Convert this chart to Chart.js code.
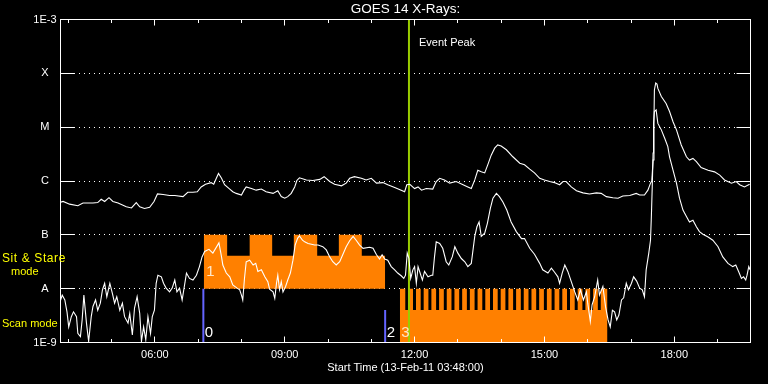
<!DOCTYPE html>
<html>
<head>
<meta charset="utf-8">
<script src="https://cdn.jsdelivr.net/npm/chart.js@4/dist/chart.umd.min.js"></script>
<style>
html,body{margin:0;padding:0;background:#000;}
canvas{display:block;}
</style>
</head>
<body>
<canvas id="c" width="768" height="384"></canvas>
<script>
// ---- Axis ticks ----
const yTickValues = [1e-9, 1e-8, 1e-7, 1e-6, 1e-5, 1e-4, 1e-3];
const yTickLabels = ['1E-9', 'A', 'B', 'C', 'M', 'X', '1E-3'];
const xTickValues = [6, 9, 12, 15, 18];                  // hours, 13-Feb-11
const xTickLabels = ['06:00', '09:00', '12:00', '15:00', '18:00'];
const hourTicks = [4, 5, 6, 7, 8, 9, 10, 11, 12, 13, 14, 15, 16, 17, 18, 19];

// ---- GOES 14 long channel (1-8 A): time (h) / log10 flux (W/m^2) ----
const longTimes = [3.80,3.88,4.03,4.22,4.34,4.57,4.68,4.76,4.84,4.94,5.03,5.15,5.34,5.46,5.57,5.65,5.76,5.88,5.98,6.06,
6.19,6.34,6.46,6.65,6.76,6.88,6.98,7.07,7.17,7.30,7.36,7.42,7.47,7.54,7.61,7.73,7.80,7.88,8.00,8.06,
8.11,8.23,8.34,8.46,8.57,8.73,8.84,8.92,9.00,9.07,9.15,9.23,9.28,9.34,9.50,9.65,9.81,9.91,10.04,10.15,
10.31,10.42,10.50,10.61,10.77,10.88,11.00,11.12,11.27,11.38,11.54,11.69,11.77,11.82,11.89,12.00,12.08,12.16,12.27,12.42,
12.50,12.58,12.69,12.81,12.96,13.12,13.23,13.31,13.39,13.46,13.54,13.62,13.69,13.77,13.85,13.92,14.00,14.12,14.27,14.43,
14.54,14.66,14.77,14.89,15.00,15.12,15.23,15.35,15.43,15.50,15.62,15.74,15.89,16.04,16.20,16.31,16.43,16.58,16.70,16.81,
16.97,17.12,17.20,17.31,17.39,17.45,17.48,17.51,17.53,17.54,17.57,17.60,17.62,17.70,17.81,17.89,17.97,18.05,18.16,18.28,
18.35,18.43,18.51,18.62,18.78,18.93,19.05,19.16,19.32,19.43,19.51,19.62,19.74];
const longLogFlux = [-6.40,-6.38,-6.43,-6.46,-6.41,-6.41,-6.40,-6.34,-6.38,-6.31,-6.38,-6.41,-6.48,-6.50,-6.40,-6.48,-6.51,-6.49,-6.38,-6.24,
-6.25,-6.27,-6.27,-6.29,-6.21,-6.21,-6.20,-6.11,-6.06,-6.03,-6.06,-5.95,-5.86,-5.95,-6.07,-6.15,-6.20,-6.23,-6.26,-6.17,
-6.11,-6.14,-6.17,-6.15,-6.20,-6.23,-6.18,-6.29,-6.32,-6.29,-6.23,-6.11,-5.99,-5.94,-5.98,-5.99,-5.97,-5.92,-6.01,-6.06,
-6.09,-6.04,-5.95,-5.92,-5.95,-5.98,-5.95,-6.04,-6.03,-6.07,-6.12,-6.17,-6.20,-6.07,-6.06,-6.14,-6.11,-6.17,-6.14,-6.15,
-6.01,-5.95,-5.98,-6.04,-6.01,-6.07,-6.11,-6.14,-5.98,-5.80,-5.83,-5.85,-5.70,-5.52,-5.39,-5.33,-5.35,-5.42,-5.55,-5.67,
-5.70,-5.78,-5.85,-5.95,-5.98,-6.01,-6.03,-6.07,-6.01,-6.01,-6.11,-6.18,-6.22,-6.24,-6.22,-6.23,-6.29,-6.31,-6.32,-6.28,
-6.27,-6.23,-6.26,-6.26,-6.17,-6.04,-6.00,-5.61,-4.87,-4.31,-4.18,-4.20,-4.28,-4.43,-4.56,-4.71,-4.90,-5.05,-5.33,-5.55,
-5.61,-5.58,-5.64,-5.75,-5.80,-5.83,-5.89,-5.98,-6.04,-6.01,-6.07,-6.11,-6.06];

// ---- GOES 14 short channel (0.5-4 A): time (h) / log10 flux (W/m^2) ----
const shortTimes = [3.80,3.86,3.92,3.97,4.01,4.07,4.12,4.19,4.22,4.28,4.32,4.36,4.42,4.47,4.53,4.57,4.63,4.68,4.74,4.79,
4.84,4.89,4.96,5.02,5.07,5.12,5.19,5.25,5.30,5.38,5.42,5.48,5.53,5.59,5.65,5.69,5.74,5.79,5.84,5.90,
5.94,5.99,6.03,6.07,6.15,6.20,6.26,6.34,6.40,6.46,6.51,6.57,6.63,6.73,6.80,6.88,6.96,7.03,7.09,7.15,
7.25,7.34,7.48,7.54,7.57,7.65,7.73,7.80,7.90,7.96,8.00,8.03,8.07,8.11,8.19,8.27,8.33,8.38,8.46,8.54,
8.61,8.65,8.73,8.77,8.81,8.84,8.88,8.92,8.96,9.02,9.07,9.13,9.19,9.24,9.30,9.34,9.41,9.46,9.54,9.69,
9.77,9.88,9.96,10.04,10.11,10.19,10.27,10.34,10.42,10.50,10.58,10.65,10.73,10.81,10.96,11.04,11.12,11.19,11.25,11.31,
11.38,11.46,11.54,11.61,11.69,11.75,11.79,11.83,11.87,11.91,11.96,12.00,12.04,12.08,12.12,12.18,12.23,12.31,12.39,12.42,
12.46,12.50,12.58,12.65,12.73,12.79,12.87,12.93,13.00,13.08,13.16,13.23,13.31,13.35,13.39,13.44,13.49,13.54,13.62,13.68,
13.75,13.81,13.89,13.96,14.04,14.13,14.23,14.35,14.47,14.54,14.66,14.77,14.89,14.96,15.08,15.16,15.23,15.31,15.35,15.41,
15.47,15.54,15.62,15.70,15.77,15.83,15.90,15.97,16.00,16.06,16.10,16.16,16.23,16.27,16.35,16.41,16.47,16.52,16.57,16.62,
16.67,16.72,16.78,16.83,16.89,16.94,17.01,17.06,17.13,17.20,17.26,17.31,17.35,17.41,17.45,17.47,17.49,17.51,17.52,17.54,
17.58,17.62,17.70,17.78,17.85,17.89,17.97,18.05,18.12,18.20,18.28,18.35,18.43,18.51,18.58,18.66,18.78,18.89,19.01,19.12,
19.24,19.35,19.42,19.49,19.55,19.60,19.65,19.68,19.72,19.75];
const shortLogFlux = [-8.27,-8.12,-8.21,-8.43,-8.71,-8.52,-8.43,-8.52,-8.83,-8.89,-8.58,-8.12,-8.64,-8.98,-8.52,-8.33,-8.21,-8.40,-8.27,-8.02,
-7.90,-8.15,-7.90,-8.09,-8.27,-8.15,-8.40,-8.27,-8.52,-8.64,-8.46,-8.86,-8.36,-8.15,-8.46,-8.98,-8.71,-8.95,-8.52,-8.83,
-8.52,-8.40,-7.90,-7.75,-7.78,-7.90,-7.99,-8.06,-7.99,-7.84,-8.06,-7.99,-8.21,-7.71,-7.81,-7.84,-7.75,-7.59,-7.41,-7.31,
-7.27,-7.34,-7.15,-7.41,-7.56,-7.71,-7.78,-7.93,-7.99,-8.02,-8.12,-8.21,-7.81,-7.50,-7.47,-7.56,-7.53,-7.68,-7.65,-7.78,
-7.87,-8.01,-8.06,-8.18,-7.90,-7.75,-8.02,-7.87,-8.06,-7.96,-7.84,-7.71,-7.47,-7.19,-7.06,-7.02,-7.10,-7.13,-7.16,-7.19,
-7.19,-7.22,-7.28,-7.41,-7.50,-7.56,-7.50,-7.37,-7.22,-7.11,-7.03,-7.10,-7.19,-7.25,-7.23,-7.25,-7.37,-7.45,-7.37,-7.45,
-7.47,-7.59,-7.65,-7.71,-7.76,-7.81,-7.75,-7.34,-7.44,-7.81,-7.65,-7.59,-7.90,-7.59,-7.69,-7.84,-7.68,-7.78,-7.75,-7.75,
-7.41,-7.13,-7.16,-7.25,-7.50,-7.56,-7.41,-7.22,-7.34,-7.44,-7.50,-7.59,-7.53,-7.28,-7.03,-6.85,-6.76,-7.03,-6.97,-6.79,
-6.51,-6.32,-6.23,-6.29,-6.39,-6.54,-6.76,-6.94,-7.07,-7.07,-7.25,-7.36,-7.53,-7.65,-7.71,-7.62,-7.69,-7.78,-7.90,-7.71,
-7.56,-7.68,-7.87,-8.06,-8.21,-8.02,-8.21,-8.06,-8.27,-8.61,-8.30,-8.15,-7.84,-8.12,-7.96,-8.33,-8.58,-8.71,-8.40,-8.43,
-8.58,-8.49,-8.21,-8.17,-7.90,-8.02,-7.90,-7.78,-7.86,-7.99,-8.02,-8.15,-7.65,-7.34,-7.10,-6.66,-6.11,-5.48,-4.93,-4.71,
-4.68,-4.93,-5.05,-5.21,-5.36,-5.55,-5.80,-6.04,-6.32,-6.54,-6.66,-6.76,-6.73,-6.85,-6.94,-6.99,-7.04,-7.10,-7.22,-7.41,
-7.53,-7.59,-7.56,-7.69,-7.81,-7.78,-7.84,-7.75,-7.59,-7.65];

// ---- Sit & Stare mode (orange, above A) ----
const stareEdges = [7.13, 7.67, 8.19, 8.71, 9.21, 9.75, 10.25, 10.78, 11.32];
const stareLevels = [1e-7, 4.1e-8, 1e-7, 4.1e-8, 1e-7, 4.1e-8, 1e-7, 4.1e-8];
const stareBase = 1e-8;

// ---- Scan mode (orange comb, below A) ----
const scanStarts = [11.660,11.854,12.032,12.210,12.388,12.566,12.743,12.921,13.099,13.277,13.455,13.633,13.811,13.989,
14.167,14.345,14.522,14.700,14.878,15.056,15.234,15.412,15.590,15.768,15.946,16.124,16.301];
const scanEnds = [11.785,11.963,12.141,12.319,12.497,12.675,12.852,13.030,13.208,13.386,13.564,13.742,13.920,14.098,
14.276,14.454,14.631,14.809,14.987,15.165,15.343,15.521,15.699,15.877,16.055,16.233,16.456];
const scanTop = 1e-8;
const scanNotch = 4e-9;

// ---- Markers ----
const eventPeakTime = 11.87;
const markerLabels = ['0', '1', '2', '3'];
const markerTimes = [7.12, 7.13, 11.32, 11.66];
const marker0Top = 1e-8;
const marker2Top = 4e-9;

const FONT = 'Liberation Sans';
const ORANGE = '#ff8000';

const toPts = (ts, ls) => ts.map((t, i) => ({x: t, y: Math.pow(10, ls[i])}));

const starePts = [];
stareLevels.forEach((lv, i) => {
  starePts.push({x: stareEdges[i], y: lv}, {x: stareEdges[i + 1], y: lv});
});
const scanPts = [];
scanStarts.forEach((s, k) => {
  scanPts.push({x: s, y: scanNotch}, {x: s, y: scanTop}, {x: scanEnds[k], y: scanTop}, {x: scanEnds[k], y: scanNotch});
});

const overlay = {
  id: 'overlay',
  beforeDraw(chart) {
    const c = chart.ctx;
    c.save(); c.fillStyle = '#000'; c.fillRect(0, 0, chart.width, chart.height); c.restore();
  },
  afterDraw(chart) {
    const {ctx, chartArea: a, scales: {x, y}} = chart;
    const L = Math.floor(a.left) + 0.5, R = Math.floor(a.right) + 0.5;
    const T = Math.floor(a.top) + 0.5, B = Math.floor(a.bottom) + 0.5;
    ctx.save();
    ctx.strokeStyle = '#fff'; ctx.lineWidth = 1;
    ctx.strokeRect(L, T, R - L, B - T);
    ctx.beginPath();
    hourTicks.forEach(h => {
      const px = Math.floor(x.getPixelForValue(h)) + 0.5;
      const len = xTickValues.includes(h) ? 6 : 3.5;
      ctx.moveTo(px, B); ctx.lineTo(px, B - len);
      ctx.moveTo(px, T); ctx.lineTo(px, T + len);
    });
    yTickValues.forEach(v => {
      const py = Math.floor(y.getPixelForValue(v)) + 0.5;
      ctx.moveTo(L, py); ctx.lineTo(L + 14, py);
      ctx.moveTo(R - 14, py); ctx.lineTo(R, py);
    });
    ctx.stroke();

    ctx.textBaseline = 'middle';
    ctx.textAlign = 'left';
    // mode labels
    ctx.fillStyle = '#ffff00';
    ctx.font = '12px "' + FONT + '"';
    if ('letterSpacing' in ctx) ctx.letterSpacing = '0.6px';
    ctx.fillText('Sit & Stare', 2, 259);
    if ('letterSpacing' in ctx) ctx.letterSpacing = '0px';
    ctx.font = '11px "' + FONT + '"';
    ctx.fillText('mode', 11, 272);
    ctx.fillText('Scan mode', 2, 324);
    // event peak
    ctx.fillStyle = '#fff';
    ctx.font = '11px "' + FONT + '"';
    ctx.fillText('Event Peak', x.getPixelForValue(eventPeakTime) + 10, 43);
    // markers
    ctx.font = '15px "' + FONT + '"';
    const yBot = y.getPixelForValue(1e-9);
    const yA = y.getPixelForValue(stareBase);
    markerLabels.forEach((lab, i) => {
      const px = x.getPixelForValue(markerTimes[i]);
      if (lab === '1') {
        ctx.fillStyle = '#ffe6c8';
        ctx.fillText(lab, px + 2.5, yA - 17);
      } else {
        ctx.fillStyle = lab === '3' ? '#ffe6c8' : '#fff';
        ctx.fillText(lab, px + 1.5, yBot - 10);
      }
    });
    ctx.restore();
  }
};

new Chart(document.getElementById('c'), {
  type: 'line',
  data: {
    datasets: [
      {data: toPts(longTimes, longLogFlux), borderColor: '#fff', borderWidth: 1.1, fill: false},
      {data: toPts(shortTimes, shortLogFlux), borderColor: '#fff', borderWidth: 1.1, fill: false},
      {data: [{x: eventPeakTime, y: 1e-9}, {x: eventPeakTime, y: 1e-3}], borderColor: '#99cc00', borderWidth: 2, fill: false},
      {data: [{x: markerTimes[0], y: 1e-9}, {x: markerTimes[0], y: marker0Top}], borderColor: '#6464ff', borderWidth: 2, fill: false},
      {data: [{x: markerTimes[2], y: 1e-9}, {x: markerTimes[2], y: marker2Top}], borderColor: '#6464ff', borderWidth: 2, fill: false},
      {data: starePts, borderWidth: 0, borderColor: 'rgba(0,0,0,0)', backgroundColor: ORANGE, fill: {value: stareBase}},
      {data: scanPts, borderWidth: 0, borderColor: 'rgba(0,0,0,0)', backgroundColor: ORANGE, fill: 'start'}
    ]
  },
  options: {
    responsive: false,
    animation: false,
    devicePixelRatio: 1,
    events: [],
    layout: {padding: {left: 0, right: 17.5, top: 0, bottom: 0}},
    elements: {point: {radius: 0}, line: {tension: 0}},
    plugins: {
      legend: {display: false},
      tooltip: {enabled: false},
      title: {
        display: true, text: 'GOES 14 X-Rays:', color: '#fff', fullSize: false,
        font: {family: FONT, size: 13.5, weight: 'normal'},
        padding: {top: 1.5, bottom: 1.8}
      }
    },
    scales: {
      x: {
        type: 'linear', min: 3.82, max: 19.76,
        afterFit: s => { s.height = 41.5; },
        afterBuildTicks: s => { s.ticks = xTickValues.map(v => ({value: v})); },
        grid: {display: false, drawTicks: false},
        border: {display: false},
        ticks: {color: '#fff', font: {family: FONT, size: 11}, padding: 6, maxRotation: 0, autoSkip: false,
                callback: (v, i) => xTickLabels[i]},
        title: {display: true, text: 'Start Time (13-Feb-11 03:48:00)', color: '#fff',
                font: {family: FONT, size: 11}, padding: {top: 0, bottom: 9}}
      },
      y: {
        type: 'logarithmic', min: 1e-9, max: 1e-3, z: 1,
        afterFit: s => { s.width = 60.5; },
        afterBuildTicks: s => { s.ticks = yTickValues.map(v => ({value: v})); },
        grid: {drawTicks: false, lineWidth: 1,
               color: ctx => (ctx.tick && (ctx.tick.value <= 1e-9 * 1.01 || ctx.tick.value >= 1e-3 * 0.99)) ? 'rgba(0,0,0,0)' : '#fff'},
        border: {display: false, dash: [1, 4], dashOffset: 2},
        ticks: {color: '#fff', font: {family: FONT, size: 11}, padding: 4, crossAlign: 'center', autoSkip: false,
                callback: (v, i) => yTickLabels[i]}
      }
    }
  },
  plugins: [overlay]
});
</script>
</body>
</html>
